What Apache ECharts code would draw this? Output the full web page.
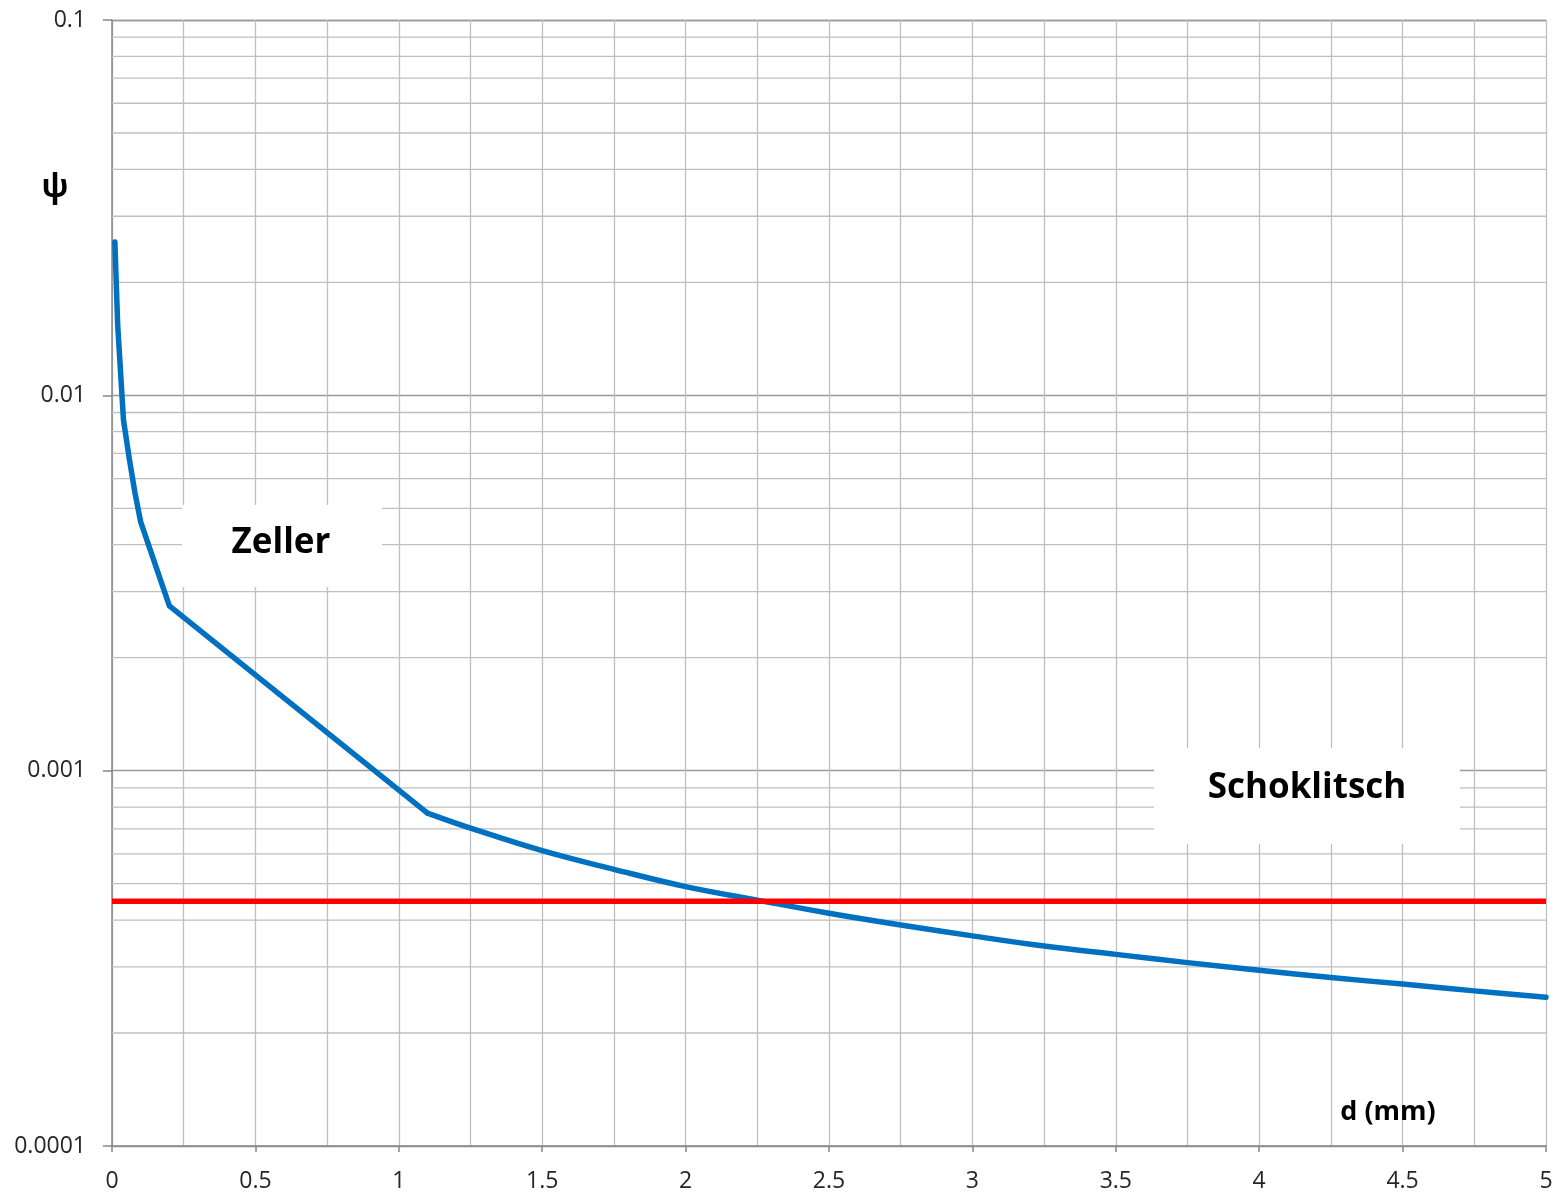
<!DOCTYPE html>
<html>
<head>
<meta charset="utf-8">
<script src="https://cdn.jsdelivr.net/npm/echarts@6/dist/echarts.min.js"></script>
<style>
html,body{margin:0;padding:0;background:#fff;}
#chart{width:1562px;height:1199px;}
</style>
</head>
<body>
<div id="chart"></div>
<script>
// Zeller part of the curve (straight segments): grain diameter d (mm) vs psi
const zellerD   = [0.01, 0.02, 0.04, 0.06, 0.08, 0.1, 0.2, 1.1];
const zellerPsi = [0.0256, 0.0153, 0.0086, 0.0068, 0.0055, 0.0046, 0.00275, 0.000771];
// Schoklitsch part of the curve (smooth)
const schoD   = [1.1, 1.25, 1.5, 1.75, 2, 2.25, 2.5, 2.75, 3, 3.25, 3.5, 3.75, 4, 4.25, 4.5, 4.75, 5];
const schoPsi = [0.000771, 0.000703, 0.000612, 0.000546, 0.000491, 0.000452, 0.000417, 0.000388, 0.000363, 0.000341, 0.000324, 0.000308, 0.000294, 0.000281, 0.000270, 0.000259, 0.000249];
// Horizontal reference line (red)
const refD   = [0, 5];
const refPsi = [0.000449, 0.000449];
// Axis ticks
const xTickLabels = ['0', '0.5', '1', '1.5', '2', '2.5', '3', '3.5', '4', '4.5', '5'];
const yTickLabels = ['0.0001', '0.001', '0.01', '0.1'];
const yMinorGrid = [0.0002,0.0003,0.0004,0.0005,0.0006,0.0007,0.0008,0.0009,
                    0.002,0.003,0.004,0.005,0.006,0.007,0.008,0.009,
                    0.02,0.03,0.04,0.05,0.06,0.07,0.08,0.09];
const annotations = ['Zeller', 'Schoklitsch'];
const xName = 'd (mm)';
const yName = 'ψ';

const FONT = '"Open Sans", "Liberation Sans", sans-serif';
const chart = echarts.init(document.getElementById('chart'));

function fmtY(v) {
  const s = Number(v.toPrecision(1)).toString();
  return yTickLabels.indexOf(s) >= 0 ? s : '';
}

// minor log gridlines as separate segments (broken with '-')
const minorData = [];
yMinorGrid.forEach(v => {
  minorData.push([0, v]);
  minorData.push([5, v]);
  minorData.push([5, '-']);
});

const blueStyle = { color: '#0070C0', width: 5.5, cap: 'round', join: 'round' };

const option = {
  animation: false,
  backgroundColor: '#ffffff',
  grid: { left: 112, right: 16, top: 20, bottom: 53, containLabel: false },
  xAxis: {
    type: 'value', min: 0, max: 5, interval: 0.5,
    axisLine: { show: true, onZero: false, lineStyle: { color: '#868686', width: 1.5 } },
    axisTick: { show: true, length: 6, lineStyle: { color: '#868686', width: 1.5 } },
    axisLabel: { margin: 24, fontFamily: FONT, fontSize: 23, color: '#262626',
      formatter: v => { const s = Number(v.toFixed(2)).toString(); return xTickLabels.indexOf(s) >= 0 ? s : ''; } },
    splitLine: { show: true, lineStyle: { color: '#bfbfbf', width: 1.3 } },
    minorTick: { show: false, splitNumber: 2 },
    minorSplitLine: { show: true, lineStyle: { color: '#bfbfbf', width: 1.3 } }
  },
  yAxis: {
    type: 'log', logBase: 10, min: 0.0001, max: 0.1,
    axisLine: { show: true, lineStyle: { color: '#868686', width: 1.5 } },
    axisTick: { show: true, length: 9, lineStyle: { color: '#868686', width: 1.5 } },
    axisLabel: { margin: 26, fontFamily: FONT, fontSize: 23, color: '#262626', formatter: fmtY },
    splitLine: { show: true, lineStyle: { color: '#9a9a9a', width: 1.3 } }
  },
  series: [
    {
      name: 'minor-grid', type: 'line', z: 0.5, silent: true,
      data: minorData, connectNulls: false,
      showSymbol: false, symbol: 'none',
      lineStyle: { color: '#bfbfbf', width: 1.3 },
      emphasis: { disabled: true }
    },
    {
      name: 'zeller', type: 'line', z: 3,
      data: zellerD.map((d, i) => [d, zellerPsi[i]]),
      showSymbol: false, symbol: 'none',
      lineStyle: blueStyle
    },
    {
      name: 'schoklitsch', type: 'line', z: 3, smooth: 0.4,
      data: schoD.map((d, i) => [d, schoPsi[i]]),
      showSymbol: false, symbol: 'none',
      lineStyle: blueStyle
    },
    {
      name: 'ref', type: 'line', z: 3,
      data: refD.map((d, i) => [d, refPsi[i]]),
      showSymbol: false, symbol: 'none',
      lineStyle: { color: '#FF0000', width: 5.5, cap: 'butt' }
    }
  ],
  graphic: [
    { type: 'rect', z: 50, shape: { x: 182, y: 505, width: 200, height: 82 }, style: { fill: '#ffffff' } },
    { type: 'text', z: 51, x: 281, y: 543, style: { text: annotations[0], font: 'bold 35px ' + FONT, fill: '#000000', align: 'center', verticalAlign: 'middle' } },
    { type: 'rect', z: 50, shape: { x: 1154, y: 748, width: 306, height: 96 }, style: { fill: '#ffffff' } },
    { type: 'text', z: 51, x: 1307, y: 788, style: { text: annotations[1], font: 'bold 35px ' + FONT, fill: '#000000', align: 'center', verticalAlign: 'middle' } },
    { type: 'text', z: 51, x: 1388, y: 1112, style: { text: xName, font: 'bold 27px ' + FONT, fill: '#000000', align: 'center', verticalAlign: 'middle' } },
    { type: 'text', z: 51, x: 55, y: 188, style: { text: yName, font: 'bold 32px ' + FONT, fill: '#000000', align: 'center', verticalAlign: 'middle' } }
  ]
};
chart.setOption(option);
</script>
</body>
</html>
